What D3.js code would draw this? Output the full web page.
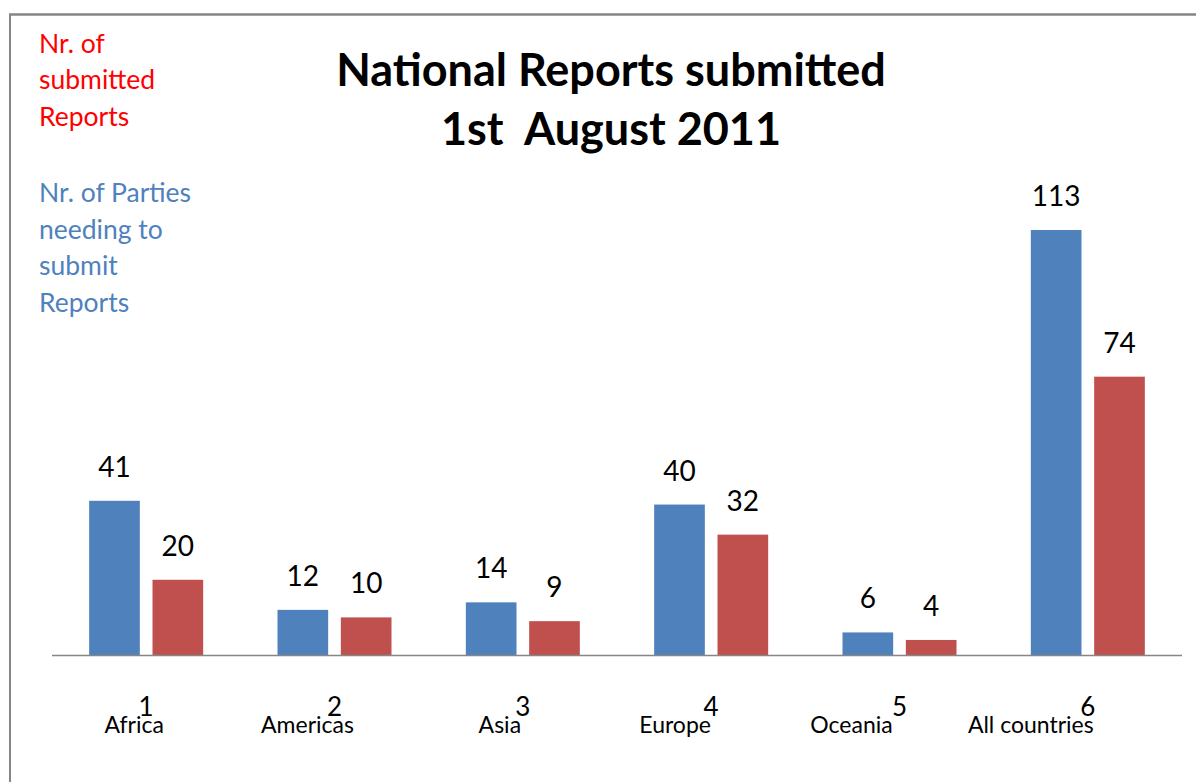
<!DOCTYPE html>
<html>
<head>
<meta charset="utf-8">
<script src="https://cdn.jsdelivr.net/npm/d3@7"></script>
<style>
  html, body { margin: 0; padding: 0; background: #fff; }
  svg { display: block; }
</style>
</head>
<body>
<svg id="chart" width="1196" height="782"></svg>
<script>
// data
const regions = ["Africa", "Americas", "Asia", "Europe", "Oceania", "All countries"];
const tickNumbers = ["1", "2", "3", "4", "5", "6"];
const parties = [41, 12, 14, 40, 6, 113];   // Nr. of Parties needing to submit Reports
const submitted = [20, 10, 9, 32, 4, 74];   // Nr. of submitted Reports
const titleLines = ["National Reports submitted", "1st  August 2011"];
const redNote = ["Nr. of", "submitted", "Reports"];
const blueNote = ["Nr. of Parties", "needing to", "submit", "Reports"];

// layout
const W = 1196, H = 782;
const PLOT_LEFT = 52, PLOT_RIGHT = 1182;
const BASE_Y = 655, TOP_Y = 230;
const GROUP_W = 114;
const BLUE = "#4F81BD", RED = "#C0504D";
const FONT = "Lato, 'Open Sans', sans-serif";
// the region names sit in a hand-placed text box, slightly left of each tick
const labelShift = [-12, -27, -23, -36, -48, -57];

const svg = d3.select("#chart");

const rows = regions.map((r, i) => ({ region: r, tick: tickNumbers[i], parties: parties[i], submitted: submitted[i], shift: labelShift[i] }));

const x = d3.scaleBand().domain(regions).range([PLOT_LEFT, PLOT_RIGHT]);
const inner = d3.scaleBand().domain(["parties", "submitted"]).range([0, GROUP_W]).paddingInner(0.2);
const y = d3.scaleLinear().domain([0, 113]).range([BASE_Y, TOP_Y]);
const colour = { parties: BLUE, submitted: RED };

// outer frame (only top and left edges show in the crop)
svg.append("line").attr("x1", 9).attr("x2", W).attr("y1", 14.5).attr("y2", 14.5)
  .attr("stroke", "#858585").attr("stroke-width", 2.5);
svg.append("line").attr("x1", 10).attr("x2", 10).attr("y1", 14).attr("y2", H)
  .attr("stroke", "#858585").attr("stroke-width", 2);

// title
svg.append("g").selectAll("text").data(titleLines).join("text")
  .attr("x", 611)
  .attr("y", (d, i) => 86 + i * 59)
  .attr("text-anchor", "middle")
  .style("white-space", "pre")
  .style("font-family", FONT)
  .style("font-weight", "bold")
  .style("font-size", "45px")
  .style("fill", "#000")
  .text(d => d);

// side notes acting as legend
svg.append("g").selectAll("text").data(redNote).join("text")
  .attr("x", 39).attr("y", (d, i) => 53 + i * 36.3)
  .style("font-family", FONT).style("font-size", "26.5px").style("fill", "#FF0000")
  .text(d => d);
svg.append("g").selectAll("text").data(blueNote).join("text")
  .attr("x", 39).attr("y", (d, i) => 202 + i * 36.5)
  .style("font-family", FONT).style("font-size", "26.5px").style("fill", BLUE)
  .text(d => d);

// bars
const groups = svg.append("g").selectAll("g").data(rows).join("g")
  .attr("transform", d => `translate(${x(d.region) + (x.bandwidth() - GROUP_W) / 2},0)`);

const series = d => ["parties", "submitted"].map(k => ({ key: k, value: d[k] }));

groups.selectAll("rect").data(series).join("rect")
  .attr("x", d => inner(d.key))
  .attr("width", inner.bandwidth())
  .attr("y", d => y(d.value))
  .attr("height", d => BASE_Y - y(d.value))
  .attr("fill", d => colour[d.key]);

groups.selectAll("text.val").data(series).join("text")
  .attr("class", "val")
  .attr("x", d => inner(d.key) + inner.bandwidth() / 2)
  .attr("y", d => y(d.value) - 24)
  .attr("text-anchor", "middle")
  .style("font-family", FONT).style("font-size", "28px").style("fill", "#000")
  .text(d => d.value);

// baseline
svg.append("line").attr("x1", PLOT_LEFT).attr("x2", PLOT_RIGHT)
  .attr("y1", BASE_Y + 0.5).attr("y2", BASE_Y + 0.5)
  .attr("stroke", "#868686").attr("stroke-width", 1.5);

// category numbers and names
const cx = d => x(d.region) + x.bandwidth() / 2;
svg.append("g").selectAll("text").data(rows).join("text")
  .attr("x", cx).attr("y", 716)
  .attr("text-anchor", "middle")
  .style("font-family", FONT).style("font-size", "26px").style("fill", "#000")
  .text(d => d.tick);
svg.append("g").selectAll("text").data(rows).join("text")
  .attr("x", d => cx(d) + d.shift).attr("y", 733)
  .attr("text-anchor", "middle")
  .style("font-family", FONT).style("font-size", "23px").style("fill", "#000")
  .text(d => d.region);
</script>
</body>
</html>
